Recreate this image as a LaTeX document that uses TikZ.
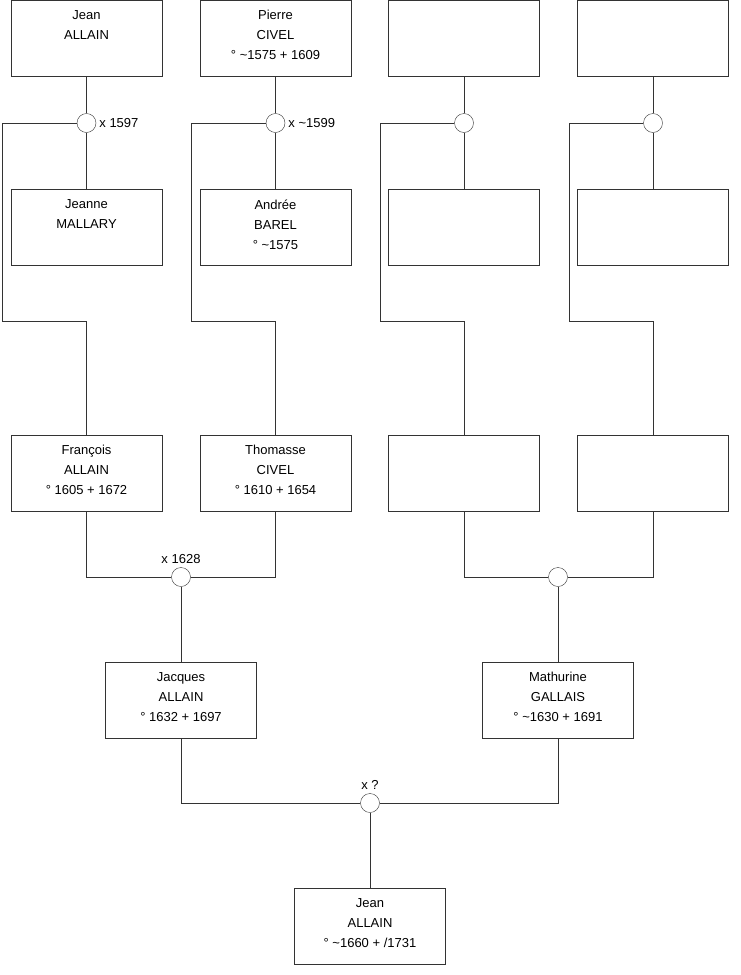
\documentclass[tikz,border=0pt]{standalone}
\usepackage{fontspec}
\setmainfont{Liberation Sans}
\usetikzlibrary{positioning}

\begin{document}
\begin{tikzpicture}[
    x=1pt, y=-1pt,
    font=\fontsize{13}{20}\selectfont,
    person/.style={draw=black!80, minimum width=151pt, minimum height=76pt, inner sep=0pt},
    ptext/.style={anchor=north, align=center, inner sep=0pt, yshift=-10.5pt},
    wed/.style={draw=black!80, circle, fill=white, minimum size=19pt, inner sep=0pt},
    wtext/.style={inner sep=2pt, xshift=1pt},
    wtop/.style={inner sep=2pt, yshift=1.5pt},
    link/.style={draw=black!80},
]
\useasboundingbox (0,0) rectangle (740,975);

% Row 1: fathers of the parents
\node[person, label={[ptext]north:{Jean\\ALLAIN}}] (p1) at (86.5,38) {};
\node[person, label={[ptext]north:{Pierre\\CIVEL\\° \textasciitilde1575 + 1609}}] (p2) at (275.5,38) {};
\node[person] (p3) at (464,38) {};
\node[person] (p4) at (653,38) {};

% Marriages of row 1
\node[wed, label={[wtext]right:x 1597}] (m1) at (86.5,123) {};
\node[wed, label={[wtext]right:x \textasciitilde1599}] (m2) at (275.5,123) {};
\node[wed] (m3) at (464,123) {};
\node[wed] (m4) at (653,123) {};

% Row 2: mothers of the parents
\node[person, label={[ptext]north:{Jeanne\\MALLARY}}] (w1) at (86.5,227) {};
\node[person, label={[ptext]north:{Andrée\\BAREL\\° \textasciitilde1575}}] (w2) at (275.5,227) {};
\node[person] (w3) at (464,227) {};
\node[person] (w4) at (653,227) {};

% Bends of the child lines
\coordinate (k1) at (2,321);
\coordinate (k2) at (191,321);
\coordinate (k3) at (380,321);
\coordinate (k4) at (569,321);

% Row 3: grandparents
\node[person, label={[ptext]north:{François\\ALLAIN\\° 1605 + 1672}}] (c1) at (86.5,473) {};
\node[person, label={[ptext]north:{Thomasse\\CIVEL\\° 1610 + 1654}}] (c2) at (275.5,473) {};
\node[person] (c3) at (464,473) {};
\node[person] (c4) at (653,473) {};

\foreach \i in {1,...,4} {
  \draw[link] (p\i.south) -- (m\i.north);
  \draw[link] (m\i.south) -- (w\i.north);
  \draw[link] (m\i.west) -| (k\i) -| (c\i.north);
}

% Marriages of row 3
\node[wed, label={[wtop]above:x 1628}] (m5) at (181,577) {};
\node[wed] (m6) at (558,577) {};

% Row 4: parents
\node[person, label={[ptext]north:{Jacques\\ALLAIN\\° 1632 + 1697}}] (g1) at (181,700) {};
\node[person, label={[ptext]north:{Mathurine\\GALLAIS\\° \textasciitilde1630 + 1691}}] (g2) at (558,700) {};

\draw[link] (c1.south) |- (m5.west);
\draw[link] (c2.south) |- (m5.east);
\draw[link] (c3.south) |- (m6.west);
\draw[link] (c4.south) |- (m6.east);
\draw[link] (m5.south) -- (g1.north);
\draw[link] (m6.south) -- (g2.north);

% Last marriage and the child
\node[wed, label={[wtop]above:x ?}] (m7) at (370,803) {};
\node[person, label={[ptext]north:{Jean\\ALLAIN\\° \textasciitilde1660 + /1731}}] (root) at (370,926) {};

\draw[link] (g1.south) |- (m7.west);
\draw[link] (g2.south) |- (m7.east);
\draw[link] (m7.south) -- (root.north);
\end{tikzpicture}
\end{document}
